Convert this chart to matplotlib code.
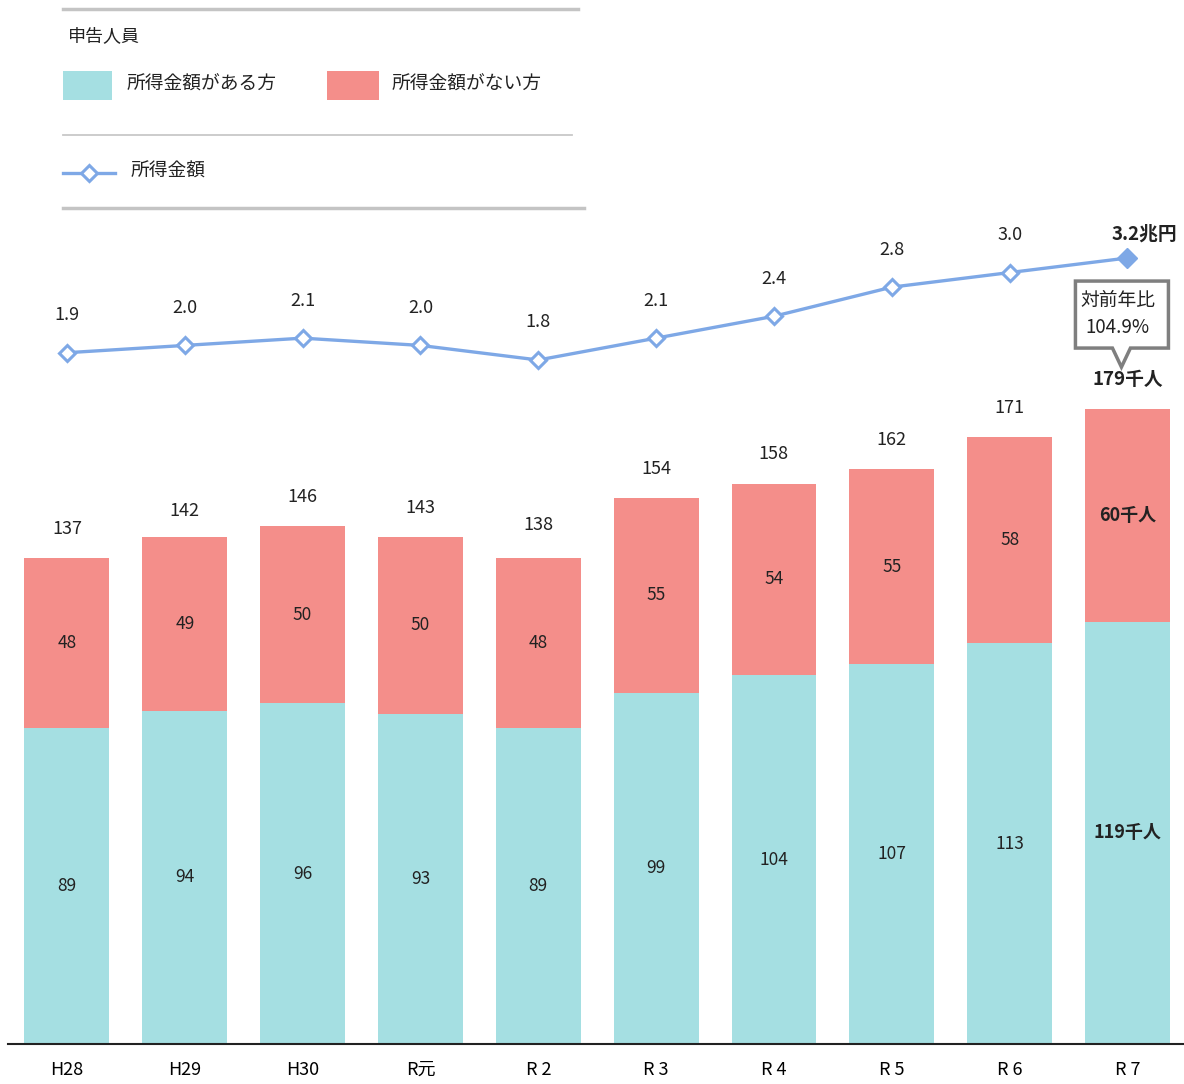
import numpy as np
import matplotlib.pyplot as plt
from matplotlib.patches import Rectangle, Polygon
from matplotlib.lines import Line2D

plt.rcParams['font.family'] = ['Noto Sans CJK JP', 'DejaVu Sans']

years = ['H28', 'H29', 'H30', 'R元', 'R 2', 'R 3', 'R 4', 'R 5', 'R 6', 'R 7']
with_income = [89, 94, 96, 93, 89, 99, 104, 107, 113, 119]
without_income = [48, 49, 50, 50, 48, 55, 54, 55, 58, 60]
totals = [137, 142, 146, 143, 138, 154, 158, 162, 171, 179]
income_amount = [1.9, 2.0, 2.1, 2.0, 1.8, 2.1, 2.4, 2.8, 3.0, 3.2]
yoy_label = '対前年比\n104.9%'

c_cyan = '#A5DFE2'
c_pink = '#F48E8A'
c_line = '#7EA8E6'

W, H = 1184, 1084
fig = plt.figure(figsize=(W / 100, H / 100), dpi=100)


def fx(px):
    return px / W


def fy(py):
    return 1 - py / H


ax = fig.add_axes([fx(8), 40 / H, 1176 / W, 824 / H])
x = np.arange(len(years))
ax.bar(x, with_income, width=0.72, color=c_cyan, zorder=2)
ax.bar(x, without_income, width=0.72, bottom=with_income, color=c_pink, zorder=2)
ax.set_xlim(-0.5, 9.48)
ax.set_ylim(0, 232.3)
ax.set_xticks(x)
ax.set_xticklabels(years, fontsize=13)
ax.tick_params(axis='x', length=0, pad=12)
ax.set_yticks([])
for s in ['top', 'left', 'right']:
    ax.spines[s].set_visible(False)
ax.spines['bottom'].set_linewidth(1.5)
ax.spines['bottom'].set_color('#222222')

last = len(years) - 1
for i in x:
    bold = 'bold' if i == last else 'normal'
    suf = '千人' if i == last else ''
    fs = 13 if i == last else 12.5
    ax.text(i, with_income[i] / 2, f'{with_income[i]}{suf}', ha='center', va='center',
            fontsize=fs, fontweight=bold, color='#222222', zorder=3)
    ax.text(i, with_income[i] + without_income[i] / 2, f'{without_income[i]}{suf}',
            ha='center', va='center', fontsize=fs, fontweight=bold, color='#222222', zorder=3)
    ax.annotate(f'{totals[i]}{suf}', (i, totals[i]), xytext=(0, 21), textcoords='offset points',
                ha='center', va='center', fontsize=13.5 if i == last else 13,
                fontweight=bold, color='#222222')

# income line on its own scale
ax2 = ax.twinx()
ax2.set_ylim(-7.588, 3.7215)
ax2.axis('off')
ax2.plot(x, income_amount, color=c_line, lw=2.4, zorder=3)
ax2.plot(x[:-1], income_amount[:-1], ls='none', marker='D', ms=8, mfc='white',
         mec=c_line, mew=2.2, zorder=4)
ax2.plot(x[-1:], income_amount[-1:], ls='none', marker='D', ms=10, mfc=c_line,
         mec=c_line, zorder=4)
for i in x:
    if i == last:
        ax2.annotate(f'{income_amount[i]:.1f}兆円', (i, income_amount[i]), xytext=(12, 17),
                     textcoords='offset points', ha='center', va='center', fontsize=13.5,
                     fontweight='bold', color='#222222')
    else:
        ax2.annotate(f'{income_amount[i]:.1f}', (i, income_amount[i]), xytext=(0, 27),
                     textcoords='offset points', ha='center', va='center', fontsize=13,
                     color='#222222')

# callout above the last bar
fig.canvas.draw()
ax_x, ax_y = ax.transData.transform((last, totals[last]))
px0, py0 = ax_x, H - ax_y
pts = [(-52, -128), (41, -128), (41, -61), (3, -61), (-6, -42), (-15, -61), (-52, -61)]
poly = Polygon([(fx(px0 + dx), fy(py0 + dy)) for dx, dy in pts], closed=True,
               transform=fig.transFigure, facecolor='white', edgecolor='#7F7F7F', lw=2.5)
fig.patches.append(poly)
fig.text(fx(px0 - 10), fy(py0 - 95), yoy_label, ha='center', va='center', fontsize=13.5,
         color='#222222', linespacing=1.4)

# legend
def hline(x0, x1, y, lw, c):
    fig.add_artist(Line2D([fx(x0), fx(x1)], [fy(y), fy(y)], color=c, lw=lw,
                          transform=fig.transFigure))


hline(63, 578, 9, 2.5, '#C4C4C4')
hline(63, 572, 135, 1.3, '#C8C8C8')
hline(63, 584, 208, 2.5, '#C4C4C4')
fig.text(fx(68), fy(36), '申告人員', ha='left', va='center', fontsize=13, color='#222222')
fig.patches.append(Rectangle((fx(63), fy(100)), 49 / W, 29 / H, transform=fig.transFigure,
                             facecolor=c_cyan, edgecolor='none'))
fig.text(fx(127), fy(84), '所得金額がある方', ha='left', va='center', fontsize=13.5, color='#222222')
fig.patches.append(Rectangle((fx(327), fy(100)), 52 / W, 29 / H, transform=fig.transFigure,
                             facecolor=c_pink, edgecolor='none'))
fig.text(fx(392), fy(84), '所得金額がない方', ha='left', va='center', fontsize=13.5, color='#222222')
fig.add_artist(Line2D([fx(63), fx(115)], [fy(173), fy(173)], color=c_line, lw=2.4,
                      transform=fig.transFigure))
fig.add_artist(Line2D([fx(89)], [fy(173)], ls='none', marker='D', ms=8, mfc='white',
                      mec=c_line, mew=2.2, transform=fig.transFigure))
fig.text(fx(131), fy(171), '所得金額', ha='left', va='center', fontsize=13.5, color='#222222')

fig.savefig('out.png', dpi=100)
